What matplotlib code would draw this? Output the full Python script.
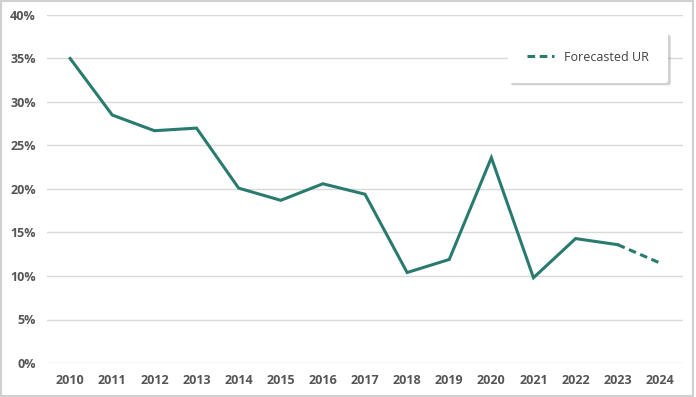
import numpy as np
import matplotlib.pyplot as plt
from matplotlib.patches import Rectangle

plt.rcParams['font.family'] = ['Open Sans', 'DejaVu Sans']

years = [2010, 2011, 2012, 2013, 2014, 2015, 2016, 2017, 2018, 2019, 2020, 2021, 2022, 2023]
rates = [35.0, 28.5, 26.7, 27.0, 20.1, 18.7, 20.6, 19.4, 10.4, 11.9, 23.6, 9.8, 14.3, 13.6]
forecast_years = [2023, 2024]
forecast_rates = [13.6, 11.5]

LINE_COLOR = "#2a7b6f"

fig = plt.figure(figsize=(6.96, 3.97), dpi=100)
ax = fig.add_axes([47/696, 1 - 363/397, 636/696, 348/397])

ax.plot(years, rates, color=LINE_COLOR, linewidth=2.2, solid_joinstyle='miter')
ax.plot(forecast_years, forecast_rates, color=LINE_COLOR, linewidth=2.2,
        linestyle=(0, (2.5, 1.5)), label="Forecasted UR")

ax.set_xlim(2009.45, 2024.55)
ax.set_ylim(0, 40)
ax.set_xticks(years + [2024])
ax.set_yticks(np.arange(0, 41, 5))
ax.set_yticklabels([f"{v}%" for v in range(0, 41, 5)])
ax.grid(axis='y', color="#d9d9d9", linewidth=1)
ax.set_axisbelow(True)
for s in ax.spines.values():
    s.set_visible(False)
ax.tick_params(length=0, labelsize=9, labelcolor="#555555", pad=8)
for lbl in ax.get_xticklabels() + ax.get_yticklabels():
    lbl.set_fontweight('bold')

leg = ax.legend(loc='upper right', bbox_to_anchor=(668/696, 1 - 32/397),
                bbox_transform=fig.transFigure, fontsize=9, frameon=True,
                fancybox=True, shadow={'color': '0.5', 'alpha': 0.35, 'ox': 2, 'oy': -2},
                handlelength=2.2, borderpad=1.5, labelcolor="#404040",
                borderaxespad=0)
leg.get_frame().set_edgecolor('white')
leg.get_frame().set_linewidth(0)

fig.patches.append(Rectangle((0.002, 0.003), 0.994, 0.994, transform=fig.transFigure,
                             fill=False, edgecolor="#d0d0d0", linewidth=1.5))

fig.savefig("out.png", dpi=100)
